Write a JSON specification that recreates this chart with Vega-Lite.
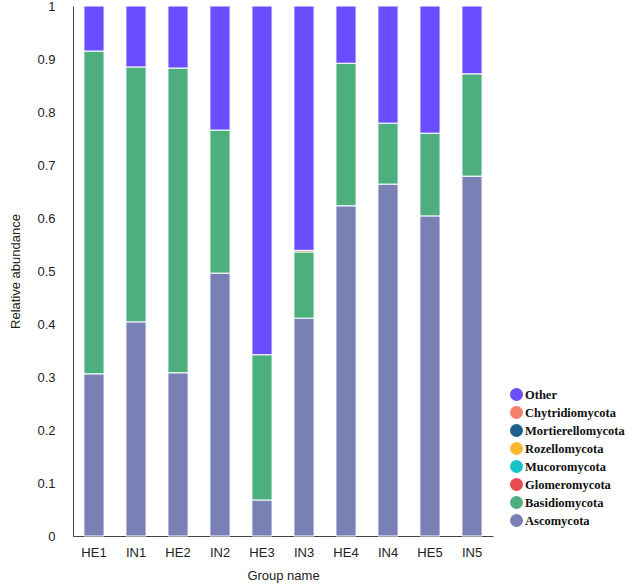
{
  "$schema": "https://vega.github.io/schema/vega-lite/v6.json",
  "autosize": "none",
  "width": 420,
  "height": 530,
  "padding": {"left": 73, "top": 6, "right": 145, "bottom": 50},
  "background": "white",
  "config": {"view": {"stroke": null}, "font": "Liberation Sans"},
  "data": {"values": [
    {"group": "HE1", "phylum": "Ascomycota", "value": 0.306},
    {"group": "HE1", "phylum": "Basidiomycota", "value": 0.609},
    {"group": "HE1", "phylum": "Other", "value": 0.085},
    {"group": "IN1", "phylum": "Ascomycota", "value": 0.404},
    {"group": "IN1", "phylum": "Basidiomycota", "value": 0.481},
    {"group": "IN1", "phylum": "Other", "value": 0.115},
    {"group": "HE2", "phylum": "Ascomycota", "value": 0.308},
    {"group": "HE2", "phylum": "Basidiomycota", "value": 0.575},
    {"group": "HE2", "phylum": "Other", "value": 0.117},
    {"group": "IN2", "phylum": "Ascomycota", "value": 0.496},
    {"group": "IN2", "phylum": "Basidiomycota", "value": 0.270},
    {"group": "IN2", "phylum": "Other", "value": 0.234},
    {"group": "HE3", "phylum": "Ascomycota", "value": 0.068},
    {"group": "HE3", "phylum": "Basidiomycota", "value": 0.274},
    {"group": "HE3", "phylum": "Other", "value": 0.658},
    {"group": "IN3", "phylum": "Ascomycota", "value": 0.411},
    {"group": "IN3", "phylum": "Basidiomycota", "value": 0.125},
    {"group": "IN3", "phylum": "Glomeromycota", "value": 0.003},
    {"group": "IN3", "phylum": "Other", "value": 0.461},
    {"group": "HE4", "phylum": "Ascomycota", "value": 0.623},
    {"group": "HE4", "phylum": "Basidiomycota", "value": 0.269},
    {"group": "HE4", "phylum": "Other", "value": 0.108},
    {"group": "IN4", "phylum": "Ascomycota", "value": 0.664},
    {"group": "IN4", "phylum": "Basidiomycota", "value": 0.115},
    {"group": "IN4", "phylum": "Other", "value": 0.221},
    {"group": "HE5", "phylum": "Ascomycota", "value": 0.604},
    {"group": "HE5", "phylum": "Basidiomycota", "value": 0.156},
    {"group": "HE5", "phylum": "Other", "value": 0.240},
    {"group": "IN5", "phylum": "Ascomycota", "value": 0.679},
    {"group": "IN5", "phylum": "Basidiomycota", "value": 0.193},
    {"group": "IN5", "phylum": "Other", "value": 0.128}
  ]},
  "mark": {"type": "bar", "stroke": "white", "strokeWidth": 1},
  "encoding": {
    "x": {
      "field": "group", "type": "nominal",
      "sort": ["HE1", "IN1", "HE2", "IN2", "HE3", "IN3", "HE4", "IN4", "HE5", "IN5"],
      "scale": {"paddingInner": 0.52, "paddingOuter": 0.26},
      "axis": {
        "title": "Group name", "labelAngle": 0, "ticks": false, "tickSize": 0,
        "labelPadding": 10, "labelFontSize": 13, "labelColor": "#222",
        "titleFontSize": 13, "titleFontWeight": "normal", "titleColor": "#222", "titlePadding": 10,
        "domainColor": "#444", "domainWidth": 1
      }
    },
    "y": {
      "field": "value", "type": "quantitative", "stack": "zero",
      "scale": {"domain": [0, 1], "nice": false},
      "axis": {
        "title": "Relative abundance", "grid": false, "ticks": false, "tickSize": 0,
        "values": [0, 0.1, 0.2, 0.3, 0.4, 0.5, 0.6, 0.7, 0.8, 0.9, 1],
        "format": "~g",
        "labelPadding": 18, "labelFontSize": 13, "labelColor": "#222",
        "titleFontSize": 13, "titleFontWeight": "normal", "titleColor": "#222", "titlePadding": 14,
        "domainColor": "#444", "domainWidth": 1
      }
    },
    "order": {"field": "phylum", "type": "nominal", "sort": "ascending"},
    "color": {
      "field": "phylum", "type": "nominal",
      "scale": {
        "domain": ["Other", "Chytridiomycota", "Mortierellomycota", "Rozellomycota", "Mucoromycota", "Glomeromycota", "Basidiomycota", "Ascomycota"],
        "range": ["#6A4DFF", "#F47F6B", "#1F5F8B", "#F7B731", "#17C3C8", "#E84A4F", "#4CAF7D", "#7880B5"]
      },
      "legend": {
        "title": null,
        "values": ["Other", "Chytridiomycota", "Mortierellomycota", "Rozellomycota", "Mucoromycota", "Glomeromycota", "Basidiomycota", "Ascomycota"],
        "orient": "none", "legendX": 437, "legendY": 382,
        "symbolType": "circle", "symbolSize": 169, "symbolStrokeWidth": 0, "symbolOpacity": 1,
        "labelFont": "Liberation Serif", "labelFontWeight": "bold", "labelFontSize": 12.5, "labelColor": "#111",
        "labelOffset": 2, "rowPadding": 5
      }
    }
  }
}
